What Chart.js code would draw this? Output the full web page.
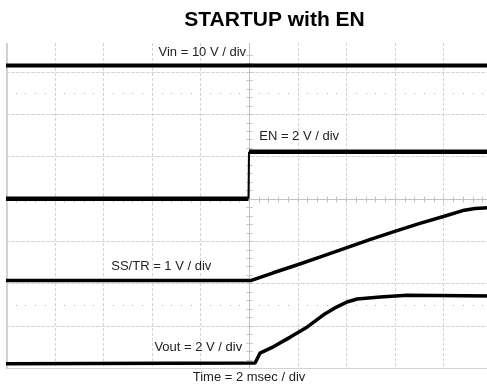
<!DOCTYPE html>
<html>
<head>
<meta charset="utf-8">
<script src="https://cdn.jsdelivr.net/npm/chart.js@4.4.1/dist/chart.umd.min.js"></script>
<style>
  html, body { margin: 0; padding: 0; background: #fff; overflow: hidden; }
  #wrap { width: 496px; height: 384px; }
</style>
</head>
<body>
<div id="wrap"><canvas id="scope"></canvas></div>
<script>
// time in msec (2 msec/div, trigger at 0), level in screen divisions from the bottom line
const vinTrace = [[-10, 7.15], [10, 7.15]];
const enTrace = [[-10, 4.0], [-0.02, 4.0], [0, 5.11], [10, 5.11]];
const ssTrace = [
  [-10, 2.07], [0.1, 2.07], [1, 2.25], [2, 2.44], [3, 2.64], [4, 2.84], [5, 3.04],
  [6, 3.23], [7, 3.41], [8, 3.58], [8.8, 3.72], [9.3, 3.77], [10, 3.79]
];
const voutTrace = [
  [-10, 0.1], [0.25, 0.12], [0.45, 0.35], [1, 0.5], [1.7, 0.73], [2.4, 0.97], [3.05, 1.25],
  [3.6, 1.44], [4.03, 1.56], [4.45, 1.63], [5.4, 1.68], [6.5, 1.72], [10, 1.7]
];

const channelNames = ["Vin = 10 V / div", "EN = 2 V / div", "SS/TR = 1 V / div", "Vout = 2 V / div"];
const timeBase = "Time = 2 msec / div";
const titleText = "STARTUP with EN";

const FONT = '"Liberation Sans", Arial, Helvetica, sans-serif';

const toXY = pts => pts.map(([t, d]) => ({ x: t, y: d }));
const trace = (pts, w) => ({
  data: toXY(pts),
  borderColor: "#000",
  borderWidth: w,
  pointRadius: 0,
  tension: 0,
  fill: false,
  borderJoinStyle: "bevel",
  // steep edges are drawn thinner than the flat, noisy parts
  segment: {
    borderWidth: c => Math.abs(c.p1.parsed.y - c.p0.parsed.y) > 0.5 && Math.abs(c.p1.parsed.x - c.p0.parsed.x) < 0.1 ? 2 : w
  }
});

// scope graticule: dashed divisions, centre axes with minor ticks, frame on left/bottom
const graticule = {
  id: "graticule",
  beforeDatasetsDraw(chart) {
    const { ctx, chartArea: a, scales: { x, y } } = chart;
    const line = (x1, y1, x2, y2) => { ctx.beginPath(); ctx.moveTo(x1, y1); ctx.lineTo(x2, y2); ctx.stroke(); };
    const px = v => Math.round(x.getPixelForValue(v)) + 0.5;
    const py = v => Math.round(y.getPixelForValue(v)) + 0.5;
    ctx.save();
    ctx.lineWidth = 1;

    ctx.strokeStyle = "#d2d2d2";
    ctx.setLineDash([3, 2]);
    for (let t = -8; t <= 8; t += 2) {
      if (t !== 0) line(px(t), a.top, px(t), a.bottom);
    }
    ctx.strokeStyle = "#d6d6d6";
    ctx.setLineDash([4, 1]);
    for (let d = 1; d <= 7; d++) {
      if (d !== 4) line(a.left, py(d), a.right, py(d));
    }

    // centre axes
    ctx.setLineDash([]);
    ctx.strokeStyle = "#c2c2c2";
    line(px(0), a.top, px(0), a.bottom);
    line(a.left, py(4), a.right, py(4));
    for (let d = 0; d <= 7.6; d += 0.2) line(px(0) - 3, py(d), px(0) + 3, py(d));
    for (let t = -10; t <= 10; t += 0.4) line(px(t), py(4) - 3, px(t), py(4) + 3);

    // marker rows
    ctx.fillStyle = "#b4b4b4";
    [1.5, 6.5].forEach(d => {
      for (let t = -9.6; t < 10; t += 0.4) ctx.fillRect(Math.round(x.getPixelForValue(t)), Math.round(y.getPixelForValue(d)), 1, 1);
    });

    // frame
    ctx.strokeStyle = "#d2d2d2";
    ctx.lineWidth = 2;
    line(a.left + 1, a.top, a.left + 1, a.bottom);
    ctx.lineWidth = 1;
    line(a.left, a.bottom + 0.5, a.right, a.bottom + 0.5);
    ctx.restore();
  }
};

// channel captions, time base and heading
const captions = {
  id: "captions",
  afterDatasetsDraw(chart) {
    const { ctx, chartArea: a, scales: { x, y } } = chart;
    const anchors = [
      { t: -0.12, d: 7.45, align: "right" },
      { t: 0.42, d: 5.47, align: "left" },
      { t: -1.55, d: 2.39, align: "right" },
      { t: -0.28, d: 0.48, align: "right" }
    ];
    ctx.save();
    ctx.fillStyle = "#222";
    ctx.font = "13px " + FONT;
    ctx.textBaseline = "middle";
    channelNames.forEach((name, i) => {
      const p = anchors[i];
      ctx.textAlign = p.align;
      ctx.fillText(name, x.getPixelForValue(p.t), y.getPixelForValue(p.d));
    });
    ctx.textAlign = "center";
    ctx.fillText(timeBase, x.getPixelForValue(0), a.bottom + 9);
    ctx.fillStyle = "#000";
    ctx.font = "bold 21px " + FONT;
    ctx.fillText(titleText, x.getPixelForValue(1.05), 20);
    ctx.restore();
  }
};

new Chart(document.getElementById("scope"), {
  type: "line",
  data: {
    datasets: [
      trace(vinTrace, 4),
      trace(enTrace, 4.5),
      trace(ssTrace, 3.5),
      trace(voutTrace, 3.5)
    ]
  },
  options: {
    animation: false,
    responsive: true,
    maintainAspectRatio: false,
    layout: { padding: { top: 43, left: 6, right: 4, bottom: 16 } },
    plugins: { legend: { display: false }, tooltip: { enabled: false } },
    scales: {
      x: { type: "linear", min: -10, max: 10, display: false },
      y: { type: "linear", min: 0, max: 7.68, display: false }
    }
  },
  plugins: [graticule, captions]
});
</script>
</body>
</html>
